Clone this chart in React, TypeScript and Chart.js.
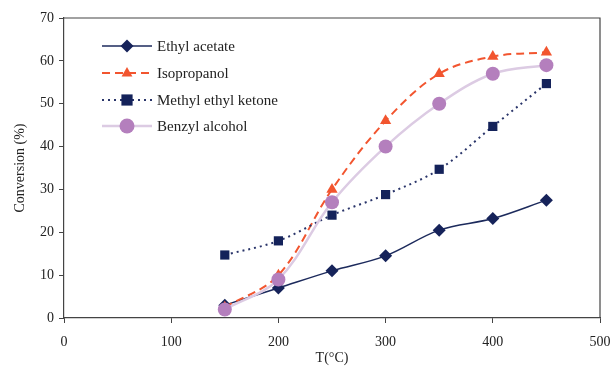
import React, { useEffect, useRef } from "react";
import { Chart, registerables } from "chart.js";

Chart.register(...registerables);

const temps = [150, 200, 250, 300, 350, 400, 450];
const ethylAcetate = [3, 7, 11, 14.5, 20.5, 23.2, 27.5];
const isopropanol = [2.5, 10, 30, 46, 57, 61, 62];
const methylEthylKetone = [14.7, 18, 24, 28.8, 34.7, 44.7, 54.7];
const benzylAlcohol = [2, 9, 27, 40, 50, 57, 59];
const seriesLabels = ["Ethyl acetate", "Isopropanol", "Methyl ethyl ketone", "Benzyl alcohol"];
const xTitle = "T(°C)";
const yTitle = "Conversion (%)";

const FONT = "'Liberation Serif', 'DejaVu Serif', serif";

const toXY = (vals: number[]) => temps.map((t, i) => ({ x: t, y: vals[i] }));

function drawMarker(ctx: CanvasRenderingContext2D, style: string, x: number, y: number, r: number, fill: string) {
  ctx.save();
  ctx.fillStyle = fill;
  ctx.setLineDash([]);
  ctx.beginPath();
  if (style === "rectRot") {
    ctx.moveTo(x, y - r);
    ctx.lineTo(x + r, y);
    ctx.lineTo(x, y + r);
    ctx.lineTo(x - r, y);
    ctx.closePath();
  } else if (style === "triangle") {
    ctx.moveTo(x, y - r);
    ctx.lineTo(x + r * 0.9, y + r * 0.6);
    ctx.lineTo(x - r * 0.9, y + r * 0.6);
    ctx.closePath();
  } else if (style === "rect") {
    ctx.rect(x - r * 0.8, y - r * 0.8, r * 1.6, r * 1.6);
  } else {
    ctx.arc(x, y, r, 0, Math.PI * 2);
  }
  ctx.fill();
  ctx.restore();
}

const legendPlugin = {
  id: "insideLegend",
  afterDraw(chart: any) {
    const ctx = chart.ctx as CanvasRenderingContext2D;
    const x0 = 102, x1 = 152, mx = 127, tx = 157;
    const ys = [46, 73, 100, 126];
    chart.data.datasets.forEach((ds: any, i: number) => {
      const y = ys[i];
      ctx.save();
      ctx.strokeStyle = ds.borderColor;
      ctx.lineWidth = ds.borderWidth;
      ctx.setLineDash(ds.borderDash || []);
      ctx.beginPath();
      ctx.moveTo(x0, y);
      ctx.lineTo(x1, y);
      ctx.stroke();
      ctx.restore();
      drawMarker(ctx, ds.pointStyle, mx, y, ds.legendRadius, ds.pointBackgroundColor);
      ctx.save();
      ctx.fillStyle = "#222";
      ctx.font = `15px ${FONT}`;
      ctx.textBaseline = "middle";
      ctx.textAlign = "left";
      ctx.fillText(ds.label, tx, y + 1);
      ctx.restore();
    });
  },
};

const framePlugin = {
  id: "frame",
  afterDraw(chart: any) {
    const { ctx, chartArea } = chart;
    ctx.save();
    ctx.strokeStyle = "#444";
    ctx.lineWidth = 1.2;
    ctx.beginPath();
    ctx.moveTo(chartArea.left, chartArea.top);
    ctx.lineTo(chartArea.right, chartArea.top);
    ctx.lineTo(chartArea.right, chartArea.bottom);
    ctx.stroke();
    ctx.restore();
  },
};

export default function App() {
  const ref = useRef<HTMLCanvasElement>(null);
  useEffect(() => {
    document.body.style.margin = "0";
    const ctx = ref.current!;
    const chart = new Chart(ctx, {
      type: "line",
      data: {
        datasets: [
          {
            label: seriesLabels[0],
            data: toXY(ethylAcetate),
            borderColor: "#1c2a5c",
            borderWidth: 1.5,
            pointStyle: "rectRot",
            pointRadius: 6.5,
            pointBackgroundColor: "#16235a",
            pointBorderWidth: 0,
            tension: 0.35,
            order: 3,
            legendRadius: 6.5,
          } as any,
          {
            label: seriesLabels[1],
            data: toXY(isopropanol),
            borderColor: "#f2552f",
            borderWidth: 2,
            borderDash: [8, 5],
            pointStyle: "triangle",
            pointRadius: 6.5,
            pointBackgroundColor: "#f2552f",
            pointBorderWidth: 0,
            tension: 0.35,
            order: 2,
            legendRadius: 6,
          } as any,
          {
            label: seriesLabels[2],
            data: toXY(methylEthylKetone),
            borderColor: "#2a356a",
            borderWidth: 2,
            borderDash: [2, 4],
            pointStyle: "rect",
            pointRadius: 6.5,
            pointBackgroundColor: "#14225a",
            pointBorderWidth: 0,
            tension: 0.35,
            order: 1,
            legendRadius: 7,
          } as any,
          {
            label: seriesLabels[3],
            data: toXY(benzylAlcohol),
            borderColor: "#dccbe3",
            borderWidth: 2.5,
            pointStyle: "circle",
            pointRadius: 7,
            pointBackgroundColor: "#b47fbd",
            pointBorderWidth: 0,
            tension: 0.35,
            order: 0,
            legendRadius: 7.5,
          } as any,
        ],
      },
      options: {
        animation: false,
        responsive: false,
        maintainAspectRatio: false,
        layout: { padding: { top: 18, right: 13, left: 0, bottom: 0 } },
        plugins: { legend: { display: false }, tooltip: { enabled: false } },
        scales: {
          x: {
            type: "linear",
            min: 0,
            max: 500,
            ticks: { stepSize: 100, color: "#222", font: { family: FONT, size: 14 }, padding: 11 },
            grid: { drawOnChartArea: false, drawTicks: true, tickLength: 5, color: "#444" },
            border: { display: true, color: "#444", width: 1.2 },
            title: { display: true, text: xTitle, color: "#222", font: { family: FONT, size: 14 }, padding: { top: 0, bottom: 0 } },
            afterFit: (s: any) => { s.height = 49; s.paddingRight = 0; s.paddingLeft = 0; },
          },
          y: {
            min: 0,
            max: 70,
            ticks: { stepSize: 10, color: "#222", font: { family: FONT, size: 14 }, padding: 5 },
            grid: { drawOnChartArea: false, drawTicks: true, tickLength: 5, color: "#444" },
            border: { display: true, color: "#444", width: 1.2 },
            title: { display: true, text: yTitle, color: "#222", font: { family: FONT, size: 14 }, padding: { top: 12, bottom: 0 } },
            afterFit: (s: any) => { s.width = 64; s.paddingTop = 0; s.paddingBottom = 0; },
          },
        },
      },
      plugins: [legendPlugin, framePlugin],
    });
    return () => chart.destroy();
  }, []);
  return <canvas ref={ref} width={613} height={367} style={{ display: "block" }} />;
}
